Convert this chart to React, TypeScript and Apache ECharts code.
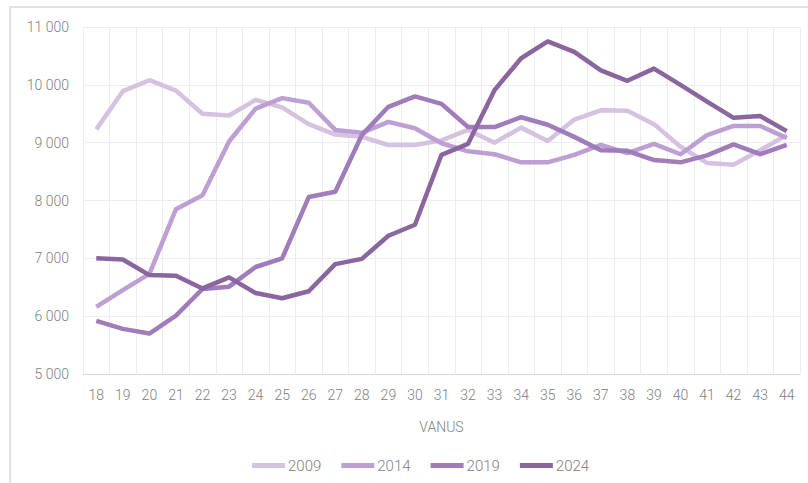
import React, { useEffect, useRef } from "react";
import * as echarts from "echarts";

const ages = ["18","19","20","21","22","23","24","25","26","27","28","29","30","31","32","33","34","35","36","37","38","39","40","41","42","43","44"];
const y2009 = [9230, 9890, 10080, 9900, 9500, 9470, 9740, 9610, 9320, 9140, 9100, 8960, 8960, 9040, 9220, 9000, 9260, 9030, 9400, 9560, 9550, 9320, 8930, 8650, 8620, 8870, 9130];
const y2014 = [6160, 6450, 6730, 7850, 8090, 9020, 9590, 9770, 9690, 9220, 9170, 9360, 9250, 8990, 8850, 8800, 8660, 8660, 8790, 8960, 8820, 8980, 8800, 9130, 9290, 9290, 9080];
const y2019 = [5920, 5780, 5700, 6010, 6470, 6510, 6850, 7000, 8060, 8150, 9130, 9620, 9800, 9670, 9270, 9270, 9440, 9310, 9100, 8870, 8860, 8700, 8660, 8780, 8970, 8800, 8960];
const y2024 = [7000, 6980, 6710, 6700, 6480, 6670, 6400, 6310, 6430, 6900, 6990, 7390, 7580, 8790, 8980, 9910, 10460, 10750, 10570, 10250, 10070, 10280, 10000, 9710, 9430, 9460, 9200];
const seriesNames = ["2009", "2014", "2019", "2024"];
const colors = ["#d5c1e0", "#bd9fd4", "#a07cbb", "#8a659e"];
const yTicks = { min: 5000, max: 11000, interval: 1000 };

const fmt = (v: number) => {
  const s = String(Math.round(v));
  return s.replace(/\B(?=(\d{3})+(?!\d))/g, " ");
};

export default function App() {
  const ref = useRef<HTMLDivElement>(null);
  useEffect(() => {
    if (!ref.current) return;
    const chart = echarts.init(ref.current, undefined, { renderer: "svg" });
    const data = [y2009, y2014, y2019, y2024];
    const textColor = "#808080";
    const font = "Roboto";
    const fw = 300;
    chart.setOption({
      animation: false,
      backgroundColor: "#ffffff",
      textStyle: { fontFamily: font, fontWeight: fw },
      graphic: [
        {
          type: "rect",
          shape: { x: 10, y: 7, width: 830, height: 500 },
          style: { fill: "none", stroke: "#d9d9d9", lineWidth: 1.5 },
          silent: true,
          z: -1,
        },
      ],
      grid: { left: 83, right: 8, top: 27, bottom: 109, containLabel: false },
      legend: {
        data: seriesNames,
        left: 247,
        top: 453,
        itemWidth: 33,
        itemHeight: 5,
        itemGap: 20,
        icon: "rect",
        textStyle: { color: textColor, fontSize: 15, fontFamily: font, fontWeight: fw, padding: [0, 0, 0, -2] },
      },
      xAxis: {
        type: "category",
        data: ages,
        boundaryGap: true,
        name: "VANUS",
        nameLocation: "middle",
        nameGap: 46,
        nameTextStyle: { color: textColor, fontSize: 14, fontFamily: font, fontWeight: fw },
        axisLine: { show: true, lineStyle: { color: "#d9d9d9", width: 1 } },
        axisTick: { show: false },
        axisLabel: { color: textColor, fontSize: 14, fontFamily: font, fontWeight: fw, margin: 14, interval: 0 },
        splitLine: { show: true, interval: 0, lineStyle: { color: "#ededed", width: 1 } },
      },
      yAxis: {
        type: "value",
        min: yTicks.min,
        max: yTicks.max,
        interval: yTicks.interval,
        axisLine: { show: false },
        axisTick: { show: false },
        axisLabel: { color: textColor, fontSize: 14, fontFamily: font, fontWeight: fw, margin: 14, formatter: fmt },
        splitLine: { show: true, lineStyle: { color: "#ededed", width: 1 } },
      },
      series: seriesNames.map((n, i) => ({
        name: n,
        type: "line",
        data: data[i],
        symbol: "none",
        lineStyle: { color: colors[i], width: 4.5, join: "round" },
        itemStyle: { color: colors[i] },
        z: 2 + i,
      })),
    });
    return () => chart.dispose();
  }, []);
  return (
    <div
      ref={ref}
      style={{ position: "fixed", left: 0, top: 0, width: 808, height: 483 }}
    />
  );
}
